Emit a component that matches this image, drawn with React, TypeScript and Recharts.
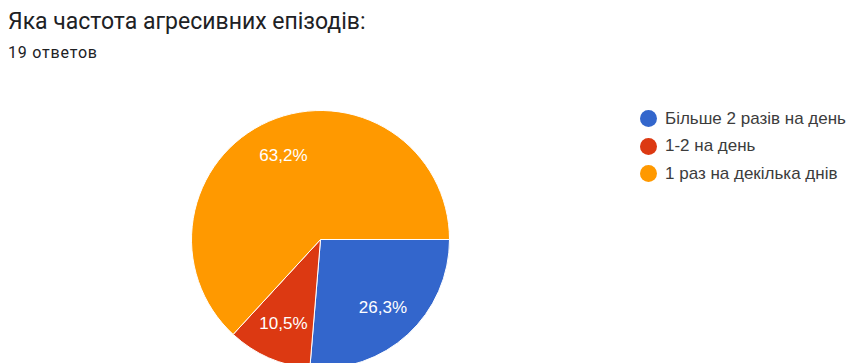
import { PieChart, Pie, Cell, Legend } from 'recharts'

const categories = ['Більше 2 разів на день', '1-2 на день', '1 раз на декілька днів']
const counts = [5, 2, 12]
const percentLabels = ['26,3%', '10,5%', '63,2%']
const colors = ['#3366cc', '#dc3912', '#ff9900']

const title = 'Яка частота агресивних епізодів:'
const subtitle = '19 ответов'

const data = categories.map((name, i) => ({ name, value: counts[i], label: percentLabels[i] }))

const RADIAN = Math.PI / 180
const HEAD_FONT = 'Roboto, Arial, sans-serif'
const CHART_FONT = 'Arial, "Liberation Sans", sans-serif'

const renderLabel = (props: any) => {
  const { cx, cy, midAngle, outerRadius, index } = props
  const r = outerRadius * 0.715
  const x = cx + r * Math.cos(-midAngle * RADIAN)
  const y = cy + r * Math.sin(-midAngle * RADIAN)
  return (
    <text
      x={x}
      y={y}
      fill="#ffffff"
      textAnchor="middle"
      dominantBaseline="central"
      fontSize={17}
      fontFamily={CHART_FONT}
    >
      {data[index].label}
    </text>
  )
}

const renderLegend = () => (
  <div style={{ fontFamily: CHART_FONT }}>
    {data.map((d, i) => (
      <div key={d.name} style={{ display: 'flex', alignItems: 'center', height: 27.5 }}>
        <span
          style={{
            width: 17,
            height: 17,
            borderRadius: '50%',
            background: colors[i],
            marginRight: 8,
            display: 'inline-block',
            flexShrink: 0,
          }}
        />
        <span style={{ fontSize: 17, color: '#3c3c3c', whiteSpace: 'nowrap' }}>{d.name}</span>
      </div>
    ))}
  </div>
)

export default function App() {
  return (
    <div style={{ position: 'absolute', left: 0, top: 0, width: 851, height: 363, background: '#fff', overflow: 'hidden' }}>
      <div
        style={{
          position: 'absolute',
          left: 8,
          top: 8,
          fontFamily: HEAD_FONT,
          fontSize: 23,
          lineHeight: '27px',
          color: '#202124',
          whiteSpace: 'nowrap',
        }}
      >
        {title}
      </div>
      <div
        style={{
          position: 'absolute',
          left: 8,
          top: 43,
          fontFamily: HEAD_FONT,
          fontSize: 16,
          letterSpacing: 0.8,
          lineHeight: '19px',
          color: '#202124',
          whiteSpace: 'nowrap',
        }}
      >
        {subtitle}
      </div>
      <PieChart width={851} height={363} margin={{ top: 0, right: 0, bottom: 0, left: 0 }}>
        <Pie
          data={data}
          dataKey="value"
          nameKey="name"
          cx={320.5}
          cy={239.5}
          outerRadius={129}
          startAngle={0}
          endAngle={-360}
          stroke="#ffffff"
          strokeWidth={1}
          label={renderLabel}
          labelLine={false}
          isAnimationActive={false}
        >
          {data.map((d, i) => (
            <Cell key={d.name} fill={colors[i]} />
          ))}
        </Pie>
        <Legend
          layout="vertical"
          align="right"
          verticalAlign="top"
          content={renderLegend}
          wrapperStyle={{ left: 640, top: 105, right: 'auto', width: 211 }}
        />
      </PieChart>
    </div>
  )
}
